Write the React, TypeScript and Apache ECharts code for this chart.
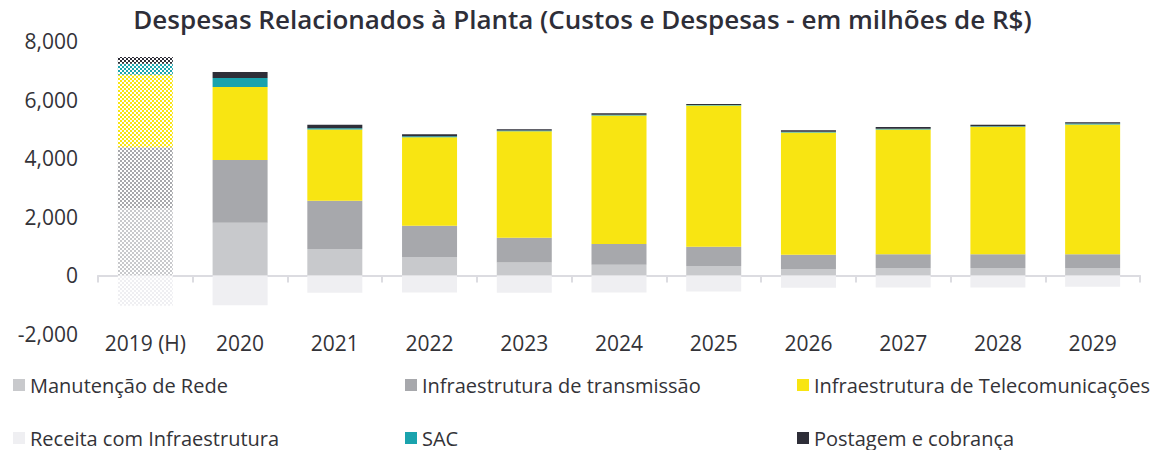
import React, { useEffect, useRef } from "react";
import * as echarts from "echarts";

const categories = ["2019 (H)", "2020", "2021", "2022", "2023", "2024", "2025", "2026", "2027", "2028", "2029"];
const manutencao = [2290, 1798, 899, 626, 444, 362, 318, 215, 250, 250, 250];
const transmissao = [2085, 2144, 1651, 1070, 841, 708, 660, 489, 468, 468, 468];
const telecom = [2472, 2485, 2427, 3022, 3638, 4386, 4821, 4171, 4260, 4352, 4431];
const sac = [376, 308, 48, 34, 20, 30, 20, 25, 23, 24, 34];
const postagem = [229, 205, 114, 68, 48, 52, 28, 57, 68, 45, 48];
const receita = [-1040, -1015, -595, -581, -595, -581, -547, -424, -410, -410, -390];
const yTicks = [-2000, 0, 2000, 4000, 6000, 8000];

const FONT = "'Open Sans', sans-serif";
const TEXT = "#333338";

function checker(color: string) {
  const c = document.createElement("canvas");
  c.width = 4;
  c.height = 4;
  const ctx = c.getContext("2d")!;
  ctx.fillStyle = "#ffffff";
  ctx.fillRect(0, 0, 4, 4);
  ctx.fillStyle = color;
  ctx.fillRect(0, 0, 2, 2);
  ctx.fillRect(2, 2, 2, 2);
  return { image: c, repeat: "repeat", imageWidth: 4, imageHeight: 4 } as any;
}

const legendBase = {
  orient: "vertical",
  top: 375,
  height: 100,
  padding: 0,
  itemWidth: 12,
  itemHeight: 12,
  itemGap: 33,
  icon: "rect",
  textStyle: { fontFamily: FONT, fontSize: 20, color: TEXT, lineHeight: 18 },
};

export default function App() {
  const ref = useRef<HTMLDivElement>(null);
  useEffect(() => {
    if (!ref.current) return;
    const chart = echarts.init(ref.current, null, { renderer: "svg" });
    const mk = (name: string, values: number[], color: string, stack: string) => ({
      name,
      type: "bar",
      stack,
      barWidth: 55,
      itemStyle: { color },
      data: values.map((v, i) => (i === 0 ? { value: v, itemStyle: { color: checker(color) } } : v)),
    });
    chart.setOption({
      animation: false,
      title: {
        text: "Despesas Relacionados à Planta (Custos e Despesas - em milhões de R$)",
        left: "center",
        top: 1,
        textStyle: { fontFamily: FONT, fontSize: 26, fontWeight: 600, color: "#2e2e38" },
      },
      grid: { left: 98, right: 25, top: 41, bottom: 116, containLabel: false },
      legend: [
        { ...legendBase, left: 13, data: ["Manutenção de Rede", "Receita com Infraestrutura"] },
        { ...legendBase, left: 405, data: ["Infraestrutura de transmissão", "SAC"] },
        { ...legendBase, left: 797, data: ["Infraestrutura de Telecomunicações", "Postagem e cobrança"] },
      ],
      xAxis: {
        type: "category",
        data: categories,
        axisLine: { onZero: true, lineStyle: { color: "#dcdce1", width: 2 } },
        axisTick: { show: true, length: 7, lineStyle: { color: "#dcdce1", width: 2 } },
        axisLabel: { interval: 0, margin: -2, fontFamily: FONT, fontSize: 21, color: TEXT },
      },
      yAxis: {
        type: "value",
        min: yTicks[0],
        max: yTicks[yTicks.length - 1],
        interval: 2000,
        axisLine: { show: false },
        axisTick: { show: false },
        splitLine: { show: false },
        axisLabel: {
          margin: 20,
          fontFamily: FONT,
          fontSize: 21,
          color: TEXT,
          formatter: (v: number) => v.toLocaleString("en-US"),
        },
      },
      series: [
        mk("Manutenção de Rede", manutencao, "#c8c9cc", "pos"),
        mk("Infraestrutura de transmissão", transmissao, "#a7a8ac", "pos"),
        mk("Infraestrutura de Telecomunicações", telecom, "#f8e512", "pos"),
        mk("Receita com Infraestrutura", receita, "#efeff2", "pos"),
        mk("SAC", sac, "#1aa3ad", "pos"),
        mk("Postagem e cobrança", postagem, "#2e2e38", "pos"),
      ],
    });
    return () => chart.dispose();
  }, []);
  return <div ref={ref} style={{ width: 1165, height: 450, position: "absolute", left: 0, top: 0 }} />;
}
